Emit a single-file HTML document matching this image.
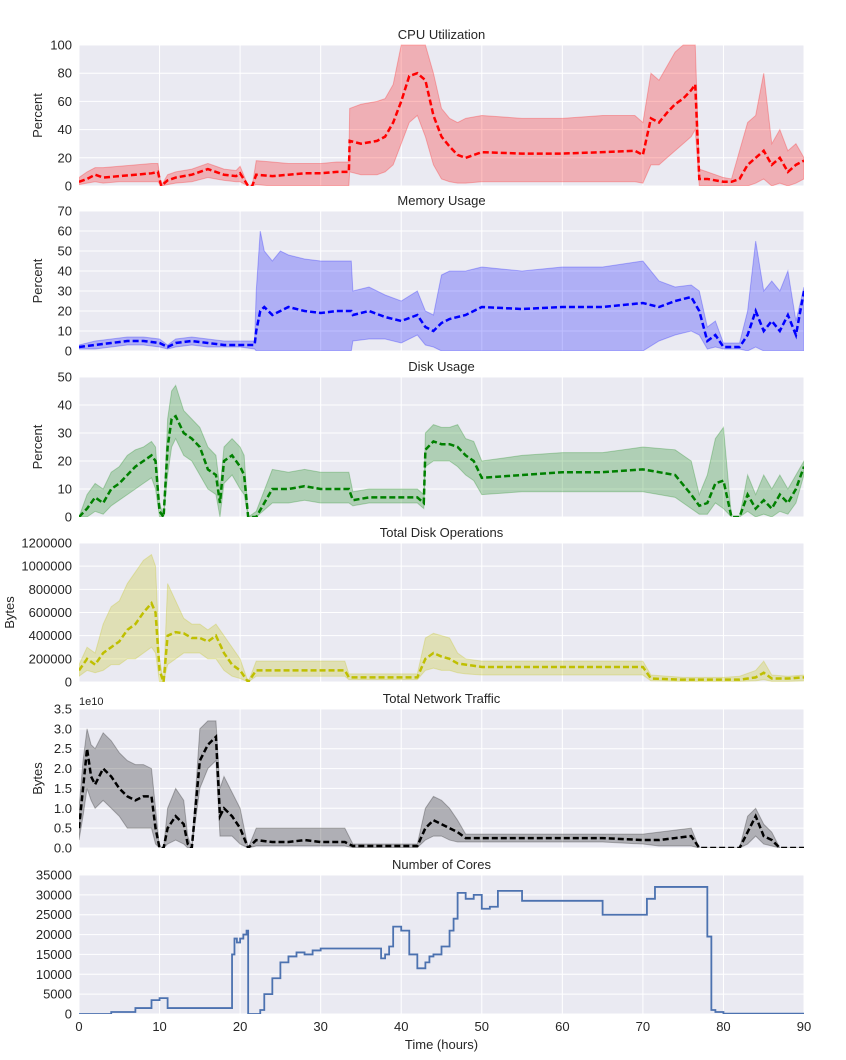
<!DOCTYPE html>
<html><head><meta charset="utf-8"><style>
body{margin:0;background:#fff;}
svg{display:block;font-family:"Liberation Sans",Arial,sans-serif;}
</style></head><body>
<svg id="chart" width="846" height="1060" viewBox="0 0 846 1060" xmlns="http://www.w3.org/2000/svg"></svg>
<script>
// ---------- DATA ----------
const xTicks=[0,10,20,30,40,50,60,70,80,90];

const cpuT=[0,1,2,3,5,7,9,9.8,10.2,11,12,14,16,17,18,19.5,20,21,21.5,22,24,26,28,30,32,33.5,33.6,35,37,38,39,40,41,42,43,44,45,46,47,48,50,55,60,65,69,70,71,72,73,74,75,76,76.5,77,78,80,81,82,83,84,85,86,87,88,89,90];
const cpuMean=[3,5,8,6,7,8,9,10,0,4,6,8,12,10,8,7,9,0,0,8,7,8,9,9,10,10,32,30,32,35,45,60,78,80,75,50,35,28,22,20,24,23,23,24,25,22,48,45,52,58,62,68,72,5,5,3,3,5,15,20,25,15,20,10,15,18];
const cpuHigh=[6,10,13,13,14,15,16,16,0,8,10,12,16,14,12,11,14,0,0,18,17,16,16,16,17,17,55,58,60,62,72,100,100,100,100,80,55,48,45,48,50,48,48,50,50,45,80,75,85,95,100,100,100,12,10,6,5,25,45,50,80,30,40,25,30,20];
const cpuLow=[1,2,3,2,3,3,3,3,0,1,2,3,6,5,4,3,3,0,0,1,0,0,0,0,0,0,10,8,8,10,15,30,45,50,35,15,5,3,2,2,3,3,3,3,3,2,15,15,20,25,30,35,40,0,0,0,0,0,0,2,5,0,2,0,2,5];
const cpuTicks=[0,20,40,60,80,100];

const memT=[0,2,4,6,8,10,11,12,14,16,18,20,21.8,22,22.5,23,24,25,26,28,30,32,33.8,34,36,38,40,42,43,44,45,46,48,50,55,60,65,70,72,74,76,77,78,79,80,82,83,84,85,86,87,88,89,90];
const memMean=[2,3,4,5,5,4,2,4,5,4,3,3,3,10,20,22,18,20,22,20,19,20,20,18,20,17,15,18,12,10,14,16,18,22,21,22,22,24,22,25,27,20,5,8,2,2,8,20,10,15,10,18,8,30];
const memHigh=[3,5,6,7,7,6,3,6,7,6,5,5,5,30,60,50,45,50,48,46,45,45,45,30,32,28,25,30,20,18,38,40,40,42,40,42,42,45,35,32,33,30,12,15,4,4,20,55,30,35,30,40,15,32];
const memLow=[1,1,2,3,3,2,1,2,3,2,2,2,1,0,0,0,0,0,0,0,0,0,0,5,6,6,4,8,3,2,0,0,0,0,0,0,0,0,5,8,10,8,1,2,1,1,0,2,0,0,0,0,0,0];
const memTicks=[0,10,20,30,40,50,60,70];

const diskT=[0,1,2,3,4,5,6,7,8,9,9.5,10,10.5,11,11.5,12,13,14,15,16,17,17.5,18,19,20,20.5,21,22,24,26,28,30,32,33.5,34,36,38,40,42,42.8,43,44,45,46,47,48,49,50,55,60,65,70,74,76,77,78,79,80,81,82,83,84,85,86,87,88,89,90];
const diskMean=[0,3,7,5,10,12,15,18,20,22,20,2,0,25,35,36,30,28,25,17,15,5,20,22,18,15,0,0,10,10,11,10,10,10,6,7,7,7,7,5,24,27,26,26,25,22,20,14,15,16,16,17,15,8,4,5,12,13,0,0,8,3,6,3,8,5,10,18];
const diskHigh=[0,8,12,10,16,18,22,24,25,27,25,5,0,35,45,47,38,35,32,25,22,10,25,28,25,22,0,2,17,16,17,16,16,16,9,10,10,10,10,8,30,33,32,32,33,28,27,20,22,23,23,25,24,20,8,15,28,32,0,0,15,8,15,10,15,10,15,20];
const diskLow=[0,0,2,1,4,6,8,10,12,14,10,0,0,15,25,28,22,20,15,10,8,0,12,15,10,8,0,0,5,5,6,5,5,5,4,5,5,5,5,3,18,20,20,20,18,15,13,8,9,9,9,9,7,3,1,1,5,3,0,0,2,0,1,0,2,1,5,15];
const diskTicks=[0,10,20,30,40,50];

const opsT=[0,1,2,3,4,5,6,7,8,9,9.5,10,10.5,11,12,13,14,15,16,17,18,19,20,21,22,24,26,28,30,33,33.5,35,38,40,42,43,44,45,46,47,48,50,55,60,65,70,71,75,80,82,84,85,86,88,90];
const opsMean=[100,200,150,250,300,350,450,500,600,680,600,100,0,400,430,420,380,380,350,400,250,150,100,0,100,100,100,100,100,100,40,40,40,40,40,200,250,220,200,160,150,130,130,130,130,130,30,20,20,20,40,80,30,30,40];
const opsHigh=[150,300,250,500,650,700,850,950,1050,1100,1000,200,0,850,700,550,500,500,450,500,400,300,200,0,180,180,180,180,180,180,70,70,70,70,70,380,420,400,380,250,200,180,180,180,180,180,60,40,40,50,100,180,60,50,60];
const opsLow=[50,100,80,100,150,150,200,200,250,300,250,0,0,150,200,250,250,250,200,200,100,50,30,0,50,50,50,50,50,50,20,20,20,20,20,100,120,100,100,80,70,60,60,60,60,60,10,5,5,5,10,20,5,5,10];
const opsTicks=[0,200,400,600,800,1000,1200]; // thousands
const opsTickLabels=["0","200000","400000","600000","800000","1000000","1200000"];

const netT=[0,0.5,1,1.5,2,3,4,5,6,7,8,9,9.5,10,10.5,11,12,13,13.5,14,15,16,17,17.5,18,19,20,21,22,24,26,28,30,33,34,38,42,43,44,45,46,47,48,50,55,60,65,70,72,74,76,77,80,82,83,84,85,86,87,90];
const netMean=[0.5,1.5,2.5,1.8,1.6,2.0,1.8,1.5,1.3,1.2,1.3,1.3,0.5,0,0,0.5,0.8,0.6,0.1,0,2.2,2.6,2.8,0.8,1.0,0.8,0.5,0,0.2,0.15,0.15,0.2,0.15,0.15,0.05,0.05,0.05,0.5,0.7,0.6,0.5,0.4,0.25,0.25,0.25,0.25,0.25,0.2,0.2,0.25,0.3,0,0,0,0.4,0.8,0.3,0.2,0,0];
const netHigh=[1.0,2.2,3.0,2.6,2.5,2.9,2.7,2.4,2.2,2.1,2.1,2.0,1.0,0,0,1.0,1.5,1.2,0.3,0,3.0,3.2,3.2,1.5,1.8,1.4,1.0,0,0.5,0.5,0.5,0.5,0.5,0.5,0.1,0.1,0.1,1.0,1.3,1.2,1.0,0.7,0.35,0.35,0.35,0.35,0.35,0.35,0.4,0.45,0.5,0,0,0,0.8,1.0,0.6,0.4,0,0];
const netLow=[0.2,0.8,1.5,1.2,1.0,1.2,1.0,0.8,0.5,0.5,0.5,0.5,0.1,0,0,0.1,0.2,0.1,0,0,1.5,2.0,2.2,0.3,0.3,0.3,0.1,0,0.05,0.05,0.05,0.05,0.05,0.05,0.01,0.01,0.01,0.2,0.3,0.3,0.2,0.15,0.15,0.15,0.15,0.15,0.15,0.1,0.05,0.05,0.05,0,0,0,0.1,0.3,0.1,0.05,0,0];
const netTicks=[0,0.5,1,1.5,2,2.5,3,3.5];

const coresT=[0,4,7,9,10,11,19,19.3,19.6,20,20.4,20.8,21,22.5,23,24,25,26,27,28,29,30,37,37.5,38,38.5,39,40,41,42,43,43.5,44,45,46,46.5,47,48,49,50,51,52,55,65,70.5,71.5,78,78.5,79,80,90];
const coresV=[0,500,1500,3500,4000,1500,15000,19000,18000,19000,20000,21000,0,1000,5000,9000,13000,14500,15500,15000,16000,16500,16500,14000,15000,17000,22000,21000,15000,11500,13000,14500,15000,17000,21000,24000,30500,29000,30000,26500,27000,31000,28500,25000,29000,32000,19500,1000,500,100,100];
const coresTicks=[0,5000,10000,15000,20000,25000,30000,35000];

// ---------- RENDER ----------
const NS="http://www.w3.org/2000/svg";
const svg=document.getElementById('chart');
const X0=79,X1=804;
function xs(h){return X0+(X1-X0)*h/90;}
function mk(tag,attrs,parent){const e=document.createElementNS(NS,tag);for(const k in attrs)e.setAttribute(k,attrs[k]);(parent||svg).appendChild(e);return e;}

function panel(p){
  const g=mk('g',{});
  
  
  const ys=v=>p.bottom-(p.bottom-p.top)*v/p.ymax;
  const bg=mk('rect',{x:X0,y:p.top,width:X1-X0,height:p.bottom-p.top,fill:'#eaeaf2'},g);
  
  
  xTicks.forEach(t=>{mk('line',{x1:xs(t),x2:xs(t),y1:p.top,y2:p.bottom,stroke:'#fff','stroke-width':1},g);});
  p.ticks.forEach((t,i)=>{
    mk('line',{x1:X0,x2:X1,y1:ys(t),y2:ys(t),stroke:'#fff','stroke-width':1},g);
    const tx=mk('text',{x:72,y:ys(t)+4.5,'text-anchor':'end','font-size':13,fill:'#262626'},g);
    
    
    tx.textContent=p.labels?p.labels[i]:(p.fmt?p.fmt(t):String(t));
  });
  const clip='clip-'+p.name;
  const cp=mk('clipPath',{id:clip},g);
  mk('rect',{x:X0,y:p.top-2,width:X1-X0,height:p.bottom-p.top+2},cp);
  const inner=mk('g',{'clip-path':'url(#'+clip+')'},g);
  if(p.mean){
    let d='M'+p.t.map((h,i)=>xs(h)+','+ys(p.hi[i])).join('L');
    for(let i=p.t.length-1;i>=0;i--)d+='L'+xs(p.t[i])+','+ys(p.lo[i]);
    d+='Z';
    const band=mk('path',{d:d,fill:p.band,'fill-opacity':0.25,stroke:p.color,'stroke-opacity':0.25,'stroke-width':1},inner);
    
    
    const ln=mk('path',{d:'M'+p.t.map((h,i)=>xs(h)+','+ys(p.mean[i])).join('L'),fill:'none',stroke:p.color,'stroke-width':2.5,'stroke-dasharray':'6,3'},inner);
    
    
  } else {
    let d='M'+xs(p.t[0])+','+ys(p.v[0]);
    for(let i=1;i<p.t.length;i++){d+='L'+xs(p.t[i])+','+ys(p.v[i-1])+'L'+xs(p.t[i])+','+ys(p.v[i]);}
    const ln=mk('path',{d:d,fill:'none',stroke:p.color,'stroke-width':1.8},inner);
    
    
  }
  const ti=mk('text',{x:(X0+X1)/2,y:p.top-6,'text-anchor':'middle','font-size':13,fill:'#262626'},g);
  
  
  ti.textContent=p.title;
  if(p.ylabel){
    const cy=(p.top+p.bottom)/2;
    const yl=mk('text',{x:p.ylx,y:cy,'text-anchor':'middle','font-size':13,fill:'#262626',transform:'rotate(-90 '+p.ylx+' '+cy+')'},g);
    
    
    yl.textContent=p.ylabel;
  }
}

panel({name:'cpu',title:'CPU Utilization',top:45,bottom:186,ymax:100,ticks:cpuTicks,t:cpuT,mean:cpuMean,hi:cpuHigh,lo:cpuLow,color:'#ff0000',band:'#ff0000',ylabel:'Percent',ylx:42});
panel({name:'memory',title:'Memory Usage',top:211,bottom:351,ymax:70,ticks:memTicks,t:memT,mean:memMean,hi:memHigh,lo:memLow,color:'#0000ff',band:'#0000ff',ylabel:'Percent',ylx:42});
panel({name:'disk',title:'Disk Usage',top:377,bottom:517,ymax:50,ticks:diskTicks,t:diskT,mean:diskMean,hi:diskHigh,lo:diskLow,color:'#008000',band:'#008000',ylabel:'Percent',ylx:42});
panel({name:'disk-ops',title:'Total Disk Operations',top:543,bottom:682,ymax:1200,ticks:opsTicks,labels:opsTickLabels,t:opsT,mean:opsMean,hi:opsHigh,lo:opsLow,color:'#bfbf00',band:'#bfbf00',ylabel:'Bytes',ylx:14});
panel({name:'network',title:'Total Network Traffic',top:709,bottom:848,ymax:3.5,ticks:netTicks,fmt:v=>v.toFixed(1),t:netT,mean:netMean,hi:netHigh,lo:netLow,color:'#000000',band:'#000000',ylabel:'Bytes',ylx:42});
panel({name:'cores',title:'Number of Cores',top:875,bottom:1014,ymax:35000,ticks:coresTicks,t:coresT,v:coresV,color:'#4c72b0'});

const ex=mk('text',{x:79,y:705,'font-size':11,fill:'#262626'});


ex.textContent='1e10';

xTicks.forEach(t=>{
  const tx=mk('text',{x:xs(t),y:1031,'text-anchor':'middle','font-size':13,fill:'#262626'});
  
  
  tx.textContent=String(t);
});
const xt=mk('text',{x:(X0+X1)/2,y:1049,'text-anchor':'middle','font-size':13,fill:'#262626'});


xt.textContent='Time (hours)';
</script>
</body></html>
